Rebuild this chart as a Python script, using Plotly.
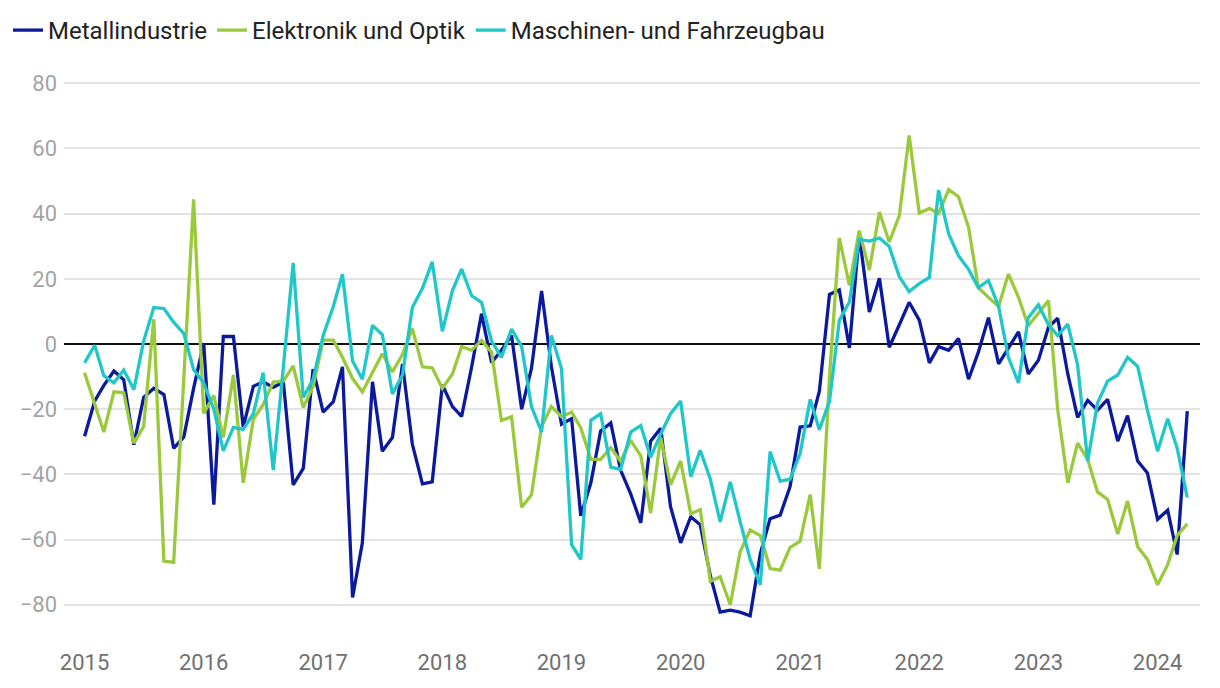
import pandas as pd
import plotly.graph_objects as go

# Monthly dates Jan 2015 - Apr 2024
months = pd.date_range("2015-01-01", "2024-04-01", freq="MS").strftime("%Y-%m-%d").tolist()

metall = [
    -28.3, -17.5, -12.7, -8.3, -11.0, -30.9, -16.4, -13.6, -15.5, -32.0, -28.5, -13.6,
    0.3, -49.3, 2.3, 2.3, -25.5, -13.0, -11.6, -13.3, -11.7, -43.2, -38.2, -7.7,
    -20.9, -17.7, -7.0, -77.8, -61.0, -11.6, -32.9, -28.7, -6.1, -30.7, -42.9, -42.3,
    -12.5, -19.2, -22.2, -6.9, 9.3, -5.7, -1.9, 2.6, -20.0, -7.5, 16.3, -6.9,
    -24.6, -22.9, -52.7, -42.6, -26.7, -24.2, -38.7, -46.0, -54.9, -29.8, -25.9, -49.9,
    -61.0, -53.0, -55.5, -71.1, -82.3, -81.7, -82.3, -83.4, -64.4, -53.6, -52.5, -43.8,
    -25.5, -25.1, -14.5, 15.2, 16.6, -1.2, 33.5, 9.8, 20.2, -1.0, 5.9, 12.8,
    7.3, -5.8, -0.8, -1.9, 1.7, -10.8, -2.5, 8.1, -6.1, -1.3, 3.7, -9.2,
    -5.0, 5.2, 7.9, -9.2, -22.5, -17.3, -20.3, -17.0, -29.8, -22.0, -35.9, -39.6,
    -53.8, -51.0, -64.6, -20.6,
]

elektronik = [
    -8.8, -18.0, -27.0, -14.7, -15.0, -30.4, -25.3, 7.6, -66.6, -67.0, -12.0, 44.4,
    -21.3, -15.8, -28.7, -9.5, -42.6, -23.1, -18.6, -11.7, -11.4, -6.7, -19.5, -13.0,
    1.2, 1.2, -4.1, -10.6, -14.7, -8.6, -3.0, -8.6, -3.2, 4.8, -7.0, -7.3,
    -13.6, -9.2, -0.8, -1.9, 1.1, -2.5, -23.5, -22.3, -50.1, -46.3, -25.3, -19.2,
    -22.3, -20.9, -25.7, -35.4, -35.4, -31.8, -36.0, -29.6, -34.3, -51.9, -28.7, -43.2,
    -35.9, -52.1, -50.8, -72.8, -71.4, -80.0, -63.8, -57.1, -58.8, -68.9, -69.4, -62.5,
    -60.5, -46.2, -69.0, -10.0, 32.6, 18.0, 34.8, 22.7, 40.5, 31.3, 39.4, 64.0,
    40.2, 41.6, 40.0, 47.4, 45.2, 35.8, 17.3, 14.3, 11.5, 21.5, 14.3, 5.6,
    9.3, 13.3, -20.0, -42.6, -30.4, -35.4, -45.4, -47.7, -58.3, -48.2, -62.2, -66.1,
    -73.9, -67.7, -58.8, -55.2,
]

maschinen = [
    -5.8, -0.4, -9.7, -11.9, -8.0, -14.0, 0.9, 11.2, 10.9, 6.7, 3.2, -7.8,
    -12.0, -20.0, -32.8, -25.6, -26.2, -21.4, -8.8, -38.7, -7.0, 24.9, -16.4, -10.8,
    2.6, 11.5, 21.4, -5.2, -10.8, 5.7, 2.9, -15.3, -9.5, 11.2, 17.1, 25.2,
    3.9, 16.4, 23.0, 14.8, 12.8, 0.9, -4.1, 4.6, -0.8, -19.2, -27.0, 2.6,
    -7.5, -61.6, -66.1, -23.4, -21.4, -37.8, -38.5, -27.0, -25.0, -34.8, -27.6, -21.4,
    -17.5, -40.7, -32.6, -41.5, -54.6, -42.3, -54.4, -66.1, -73.9, -33.0, -42.1, -41.5,
    -33.6, -17.0, -26.3, -17.5, 7.2, 12.9, 32.1, 31.6, 32.5, 29.9, 20.6, 16.1,
    18.5, 20.4, 47.2, 33.8, 27.1, 22.9, 17.3, 19.5, 11.5, -4.1, -11.9, 8.1,
    12.0, 5.9, 2.6, 6.1, -6.4, -36.0, -18.1, -11.4, -9.5, -4.1, -6.9, -20.3,
    -32.9, -22.9, -32.0, -47.1,
]

series_names = ["Metallindustrie", "Elektronik und Optik", "Maschinen- und Fahrzeugbau"]
series_values = [metall, elektronik, maschinen]
series_colors = ["#0b199d", "#9bc93c", "#1fc7c9"]

year_ticks = [f"{y}-01-01" for y in range(2015, 2025)]
year_labels = [str(y) for y in range(2015, 2025)]
y_ticks = [-80, -60, -40, -20, 0, 20, 40, 60, 80]

fig = go.Figure()
for name, vals, col in zip(series_names, series_values, series_colors):
    fig.add_trace(go.Scatter(
        x=months, y=vals, mode="lines", name=name,
        line=dict(color=col, width=3.3),
    ))

fig.update_layout(
    width=1220, height=688,
    margin=dict(l=54, r=28, t=59, b=75),
    paper_bgcolor="white", plot_bgcolor="white",
    font=dict(family="Roboto, sans-serif", size=22, color="#222222"),
    showlegend=True,
    legend=dict(
        orientation="h", xref="container", yref="container",
        x=0.0, y=1.0, xanchor="left", yanchor="top",
        font=dict(size=24, color="#222222"),
        itemwidth=30, tracegroupgap=0,
    ),
    xaxis=dict(
        type="date",
        range=["2014-10-30", "2024-05-10"],
        tickvals=year_ticks, ticktext=year_labels,
        showgrid=False, zeroline=False, showline=False,
        ticks="", ticklabelstandoff=26,
        tickfont=dict(size=22, color="#707070"),
    ),
    yaxis=dict(
        range=[-85, 85],
        tickvals=y_ticks,
        showgrid=True, gridcolor="#e3e3e3", gridwidth=1.5,
        zeroline=True, zerolinecolor="#111111", zerolinewidth=1.6,
        showline=False, ticks="", ticklabelstandoff=6,
        tickfont=dict(size=22, color="#a3a3a3"),
    ),
)

fig.write_html("out.html")
